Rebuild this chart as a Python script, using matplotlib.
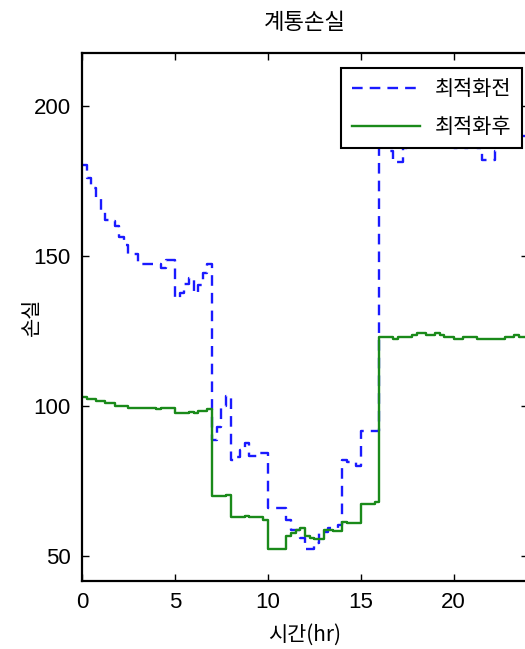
import matplotlib
matplotlib.use("Agg")
import matplotlib.pyplot as plt
import numpy as np

# 15분 단위 (0 ~ 23.75 hr)
before = [180.3, 176.2, 172.6, 169.2,
          165.0, 162.0, 161.7, 160.0,
          156.4, 153.7, 150.6, 150.6,
          147.6, 147.3, 147.3, 147.3,
          147.3, 146.0, 148.7, 148.7,
          136.0, 137.8, 140.6, 142.7,
          137.7, 140.3, 144.3, 147.3,
          88.7, 93.0, 100.0, 103.4,
          82.0, 83.0, 85.3, 87.7,
          83.3, 83.3, 84.4, 84.4,
          66.2, 66.2, 66.0, 66.0,
          62.0, 58.7, 58.7, 56.0,
          52.3, 52.3, 54.3, 58.1,
          58.1, 59.3, 59.3, 60.3,
          82.0, 81.4, 81.4, 80.0,
          91.7, 91.7, 91.7, 91.7,
          200.0, 187.0, 185.0, 181.5,
          181.5, 186.0, 190.0, 192.0,
          193.0, 195.0, 193.0, 190.0,
          190.0, 192.0, 194.0, 190.0,
          186.0, 186.0, 186.0, 187.0,
          188.0, 186.0, 182.0, 182.0,
          182.0, 185.0, 187.0, 187.0,
          187.0, 187.0, 190.0, 190.0]

after = [102.9, 102.3, 102.3, 101.8,
         101.8, 100.9, 100.9, 100.1,
         100.1, 100.1, 99.4, 99.4,
         99.4, 99.4, 99.4, 99.4,
         99.0, 99.4, 99.4, 99.4,
         97.6, 97.6, 97.6, 98.1,
         97.6, 98.4, 98.4, 99.0,
         69.9, 69.9, 69.9, 70.4,
         62.9, 62.9, 62.9, 63.3,
         62.9, 62.9, 62.9, 62.2,
         52.3, 52.3, 52.3, 52.3,
         56.7, 57.6, 58.7, 59.4,
         56.7, 56.2, 55.6, 55.6,
         58.7, 58.7, 58.3, 58.3,
         61.4, 60.9, 60.9, 60.9,
         67.3, 67.3, 67.3, 67.9,
         123.1, 123.1, 123.1, 122.4,
         123.1, 123.1, 123.1, 123.8,
         124.4, 124.4, 123.8, 123.8,
         124.4, 123.8, 123.1, 123.1,
         122.4, 122.4, 123.1, 123.1,
         123.1, 122.4, 122.4, 122.4,
         122.4, 122.4, 122.4, 123.1,
         123.1, 123.8, 123.1, 123.1]

labels = ["최적화전", "최적화후"]
xticks = [0, 5, 10, 15, 20]
yticks = [50, 100, 150, 200]

kr = ["Noto Sans CJK KR", "DejaVu Sans"]
num = ["Liberation Sans Narrow", "Liberation Sans", "DejaVu Sans"]

t = np.arange(len(before)) * 0.25
t = np.append(t, 24)
b = np.append(before, before[-1])
a = np.append(after, after[-1])

fig = plt.figure(figsize=(5.25, 6.49), dpi=100)
ax = fig.add_axes([82/525, 1-581/649, 446/525, 528/649])

ax.step(t, b, where="post", color="#1a1aff", lw=1.7, ls=(0, (4.5, 3)), label=labels[0])
ax.step(t, a, where="post", color="#1a8a1a", lw=1.7, label=labels[1])

ax.set_xlim(0, 24)
ax.set_ylim(41.7, 217.7)
ax.set_xticks(xticks)
ax.set_yticks(yticks)
ax.tick_params(direction="in", length=5, width=1, top=True, right=True,
               labelsize=16, pad=8)
for lb in ax.get_xticklabels() + ax.get_yticklabels():
    lb.set_family(num)
for s in ax.spines.values():
    s.set_linewidth(1.6)

ax.set_title("계통손실", family=kr, fontsize=16, pad=17)
ax.set_xlabel("시간(hr)", family=kr, fontsize=15, labelpad=8)
ax.set_ylabel("손실", family=kr, fontsize=15)
ax.yaxis.set_label_coords(-0.088, 0.5)

leg = ax.legend(loc="upper right", bbox_to_anchor=(0.9865, 0.9716),
                borderaxespad=0, fancybox=False, framealpha=1,
                prop={"family": kr, "size": 15}, handlelength=3.3,
                handletextpad=0.7, labelspacing=0.75, borderpad=0.5)
leg.get_frame().set_edgecolor("black")
leg.get_frame().set_linewidth(1.5)

fig.savefig("out.png", dpi=100)
